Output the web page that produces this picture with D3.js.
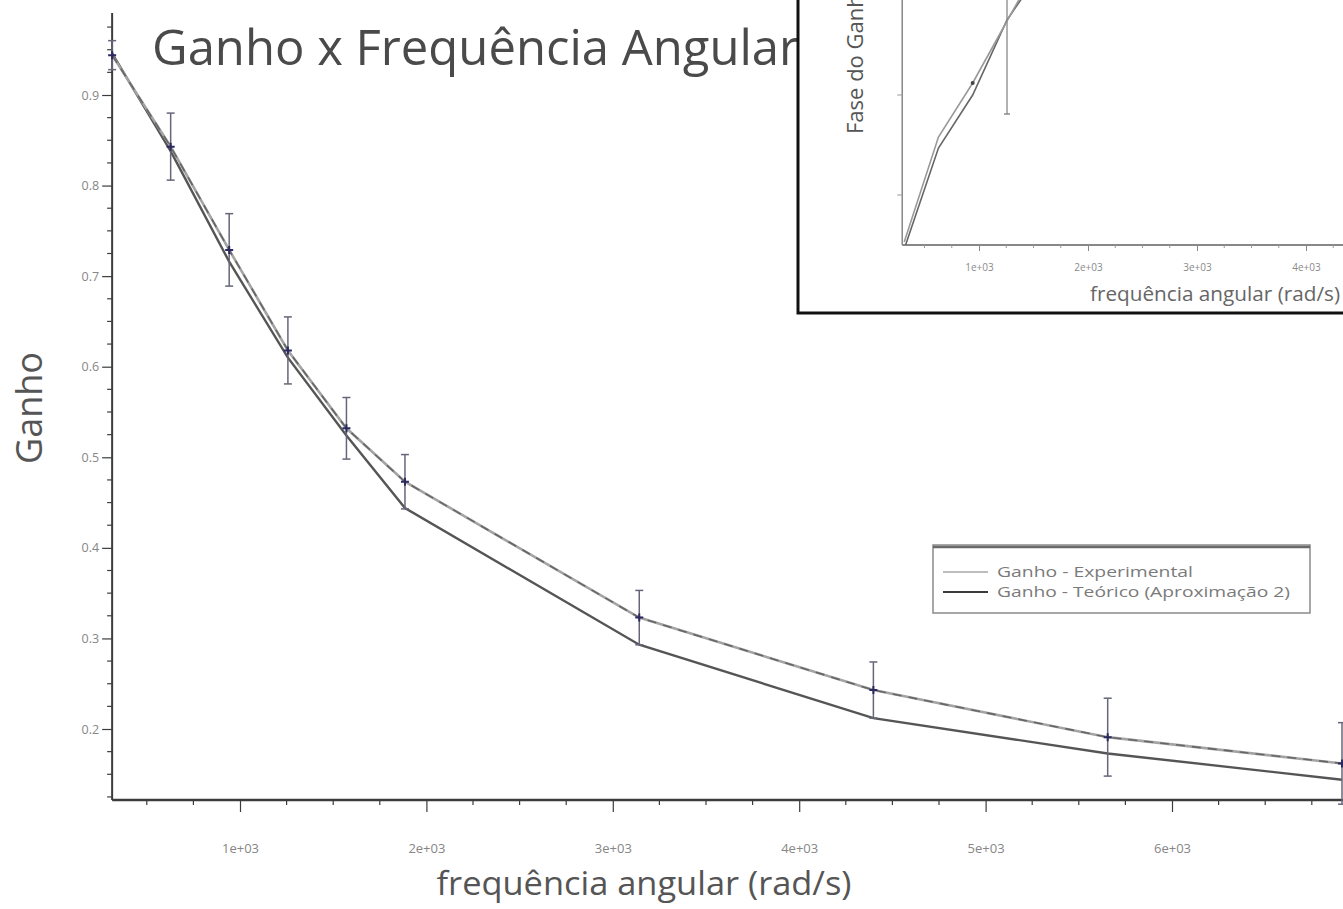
<!DOCTYPE html>
<html>
<head>
<meta charset="utf-8">
<script src="https://cdn.jsdelivr.net/npm/d3@7"></script>
<style>
  html, body { margin: 0; padding: 0; background: #fff; }
  svg { display: block; }
  text { font-family: "Open Sans", "DejaVu Sans", sans-serif; }
</style>
</head>
<body>
<svg id="chart" width="1343" height="909"></svg>
<script>
// Angular frequencies of the measurements (rad/s): 50 … 1100 Hz
const omega = [314, 628, 942, 1257, 1571, 1885, 3142, 4398, 5655, 6912];
// Measured gain and its uncertainty
const gainExp = [0.944, 0.843, 0.729, 0.618, 0.532, 0.473, 0.323, 0.243, 0.191, 0.162];
const gainErr = [0.016, 0.037, 0.040, 0.037, 0.034, 0.030, 0.030, 0.031, 0.043, 0.045];
// Theoretical gain curve
const gainTeo = [0.946, 0.838, 0.716, 0.610, 0.524, 0.444, 0.293, 0.212, 0.173, 0.144];

// Phase panel (first points only are in view)
const omegaFase = [314, 628, 942, 1257, 1571];
const faseExp = [15.3, 25.8, 31.2, 37.4, 43.5];
const faseErr = [0, 0, 0, 9.3, 0];
const faseTeo = [14.6, 24.7, 30.0, 37.5, 42.5];

const gainTicks = [0.2, 0.3, 0.4, 0.5, 0.6, 0.7, 0.8, 0.9];
const freqTicks = [1000, 2000, 3000, 4000, 5000, 6000];
const freqTickLabels = ["1e+03", "2e+03", "3e+03", "4e+03", "5e+03", "6e+03"];
const faseTicks = [20, 30];
const legendLabels = ["Ganho - Experimental", "Ganho - Teórico (Aproximação 2)"];

const svg = d3.select("#chart");

// ---------- main gain plot ----------
const x = d3.scaleLinear().domain([0, 7000]).range([53.6, 1358.4]);
const y = d3.scaleLinear().domain([0.2, 0.9]).range([729, 95]);
const xMin = 314, yMin = y.invert(800), yMax = y.invert(13);

const axisColor = "#3c3c3c";
const tickTextColor = "#868686";

// y axis
const yAxis = d3.axisLeft(y)
  .tickValues(gainTicks)
  .tickFormat(d3.format(".1f"))
  .tickSize(10).tickPadding(3).tickSizeOuter(0);
const gy = svg.append("g").attr("transform", `translate(${x(xMin)},0)`).call(yAxis);
gy.select(".domain").remove();
gy.selectAll("line").attr("stroke", axisColor).attr("stroke-width", 1.2);
gy.selectAll("text").attr("fill", tickTextColor).style("font-size", "12.5px");
svg.append("line")
  .attr("x1", x(xMin)).attr("x2", x(xMin))
  .attr("y1", y(yMax)).attr("y2", y(yMin))
  .attr("stroke", axisColor).attr("stroke-width", 2);
// minor y ticks
const yMinor = d3.range(0.125, 0.99, 0.025).filter(v => Math.abs(Math.round(v * 10) / 10 - v) > 1e-6);
svg.append("g").selectAll("line").data(yMinor).join("line")
  .attr("x1", x(xMin) - 5).attr("x2", x(xMin))
  .attr("y1", d => y(d)).attr("y2", d => y(d))
  .attr("stroke", axisColor).attr("stroke-width", 1.2);

// x axis
const xAxis = d3.axisBottom(x)
  .tickValues(freqTicks)
  .tickFormat((d, i) => freqTickLabels[i])
  .tickSize(12).tickPadding(32).tickSizeOuter(0);
const gx = svg.append("g").attr("transform", `translate(0,${y(yMin)})`).call(xAxis);
gx.select(".domain").remove();
gx.selectAll("line").attr("stroke", axisColor).attr("stroke-width", 1.2);
gx.selectAll("text").attr("fill", tickTextColor).style("font-size", "13px");
svg.append("line")
  .attr("x1", x(xMin)).attr("x2", 1343)
  .attr("y1", y(yMin)).attr("y2", y(yMin))
  .attr("stroke", axisColor).attr("stroke-width", 2.5);
const xMinor = d3.range(500, 7300, 250).filter(v => v % 1000 !== 0);
svg.append("g").selectAll("line").data(xMinor).join("line")
  .attr("x1", d => x(d)).attr("x2", d => x(d))
  .attr("y1", y(yMin)).attr("y2", y(yMin) + 5)
  .attr("stroke", axisColor).attr("stroke-width", 1.2);

// axis titles
svg.append("text")
  .attr("x", 644).attr("y", 895)
  .attr("text-anchor", "middle")
  .attr("fill", "#555").style("font-size", "32px")
  .attr("textLength", 415).attr("lengthAdjust", "spacingAndGlyphs")
  .text("frequência angular (rad/s)");
svg.append("text")
  .attr("transform", "translate(42,408) rotate(-90)")
  .attr("text-anchor", "middle")
  .attr("fill", "#555").style("font-size", "36px")
  .text("Ganho");

// chart title
svg.append("text")
  .attr("x", 152).attr("y", 65)
  .attr("fill", "#4a4a4a").style("font-size", "49px")
  .text("Ganho x Frequência Angular");

// curves
const line = d3.line().x(d => x(d[0])).y(d => y(d[1]));
const expPts = omega.map((w, i) => [w, gainExp[i]]);
const teoPts = omega.map((w, i) => [w, gainTeo[i]]);

svg.append("path").datum(teoPts).attr("d", line)
  .attr("fill", "none").attr("stroke", "#555").attr("stroke-width", 2.4);
svg.append("path").datum(expPts).attr("d", line)
  .attr("fill", "none").attr("stroke", "#a4a4a4").attr("stroke-width", 2.6);
svg.append("path").datum(expPts).attr("d", line)
  .attr("fill", "none").attr("stroke", "#666").attr("stroke-width", 1.6)
  .attr("stroke-dasharray", "9 7");

// error bars
const errColor = "#66667a";
const eb = svg.append("g").selectAll("g").data(expPts).join("g");
eb.append("line")
  .attr("x1", d => x(d[0])).attr("x2", d => x(d[0]))
  .attr("y1", (d, i) => y(d[1] + gainErr[i])).attr("y2", (d, i) => y(d[1] - gainErr[i]))
  .attr("stroke", errColor).attr("stroke-width", 1.5);
eb.append("line")
  .attr("x1", d => x(d[0]) - 4).attr("x2", d => x(d[0]) + 4)
  .attr("y1", (d, i) => y(d[1] + gainErr[i])).attr("y2", (d, i) => y(d[1] + gainErr[i]))
  .attr("stroke", errColor).attr("stroke-width", 1.5);
eb.append("line")
  .attr("x1", d => x(d[0]) - 4).attr("x2", d => x(d[0]) + 4)
  .attr("y1", (d, i) => y(d[1] - gainErr[i])).attr("y2", (d, i) => y(d[1] - gainErr[i]))
  .attr("stroke", errColor).attr("stroke-width", 1.5);
eb.append("path")
  .attr("d", d => `M${x(d[0]) - 4},${y(d[1])}h8M${x(d[0])},${y(d[1]) - 4}v8`)
  .attr("stroke", "#2a2a60").attr("stroke-width", 2);

// legend
const lg = svg.append("g").attr("transform", "translate(933,545)");
lg.append("rect").attr("width", 377).attr("height", 68)
  .attr("fill", "#fff").attr("stroke", "#8a8a8a").attr("stroke-width", 1.5);
lg.append("line").attr("x1", 0).attr("x2", 377).attr("y1", 2).attr("y2", 2)
  .attr("stroke", "#6a6a6a").attr("stroke-width", 2.5);
const legendColors = ["#bdbdbd", "#3a3a3a"];
const legendWidths = [196, 293];
legendLabels.forEach((lab, i) => {
  const ly = 27 + i * 20;
  lg.append("line").attr("x1", 10).attr("x2", 55).attr("y1", ly).attr("y2", ly)
    .attr("stroke", legendColors[i]).attr("stroke-width", 2.2);
  lg.append("text").attr("x", 64).attr("y", ly + 5)
    .attr("fill", "#7a7a7a").style("font-size", "14px")
    .attr("textLength", legendWidths[i]).attr("lengthAdjust", "spacingAndGlyphs")
    .text(lab);
});

// ---------- inset: phase plot ----------
const inset = svg.append("g");
inset.append("rect")
  .attr("x", 798).attr("y", -10).attr("width", 560).attr("height", 323)
  .attr("fill", "#fff").attr("stroke", "#111").attr("stroke-width", 3);

const xi = d3.scaleLinear().domain([1000, 2000]).range([979, 1088]);
const yi = d3.scaleLinear().domain([20, 30]).range([195, 95]);
const x0i = xi(omegaFase[0]) - 2, y0i = 245;

inset.append("line").attr("x1", x0i).attr("x2", x0i).attr("y1", 0).attr("y2", y0i)
  .attr("stroke", "#888").attr("stroke-width", 1.5);
inset.append("line").attr("x1", x0i).attr("x2", 1343).attr("y1", y0i).attr("y2", y0i)
  .attr("stroke", "#888").attr("stroke-width", 2);

const xiAxis = d3.axisBottom(xi).tickValues([1000, 2000, 3000, 4000])
  .tickFormat((d, i) => freqTickLabels[i]).tickSize(6).tickPadding(13).tickSizeOuter(0);
const gxi = inset.append("g").attr("transform", `translate(0,${y0i})`).call(xiAxis);
gxi.select(".domain").remove();
gxi.selectAll("line").attr("stroke", "#888");
gxi.selectAll("text").attr("fill", "#8a8a8a").style("font-size", "10px");
inset.append("g").selectAll("line")
  .data(d3.range(500, 4500, 250).filter(v => v % 1000 !== 0)).join("line")
  .attr("x1", d => xi(d)).attr("x2", d => xi(d)).attr("y1", y0i).attr("y2", y0i + 3)
  .attr("stroke", "#999");
inset.append("g").selectAll("line").data(faseTicks).join("line")
  .attr("x1", x0i - 5).attr("x2", x0i).attr("y1", d => yi(d)).attr("y2", d => yi(d))
  .attr("stroke", "#999");

inset.append("text")
  .attr("x", 1340).attr("y", 301).attr("text-anchor", "end")
  .attr("fill", "#666").style("font-size", "20px")
  .attr("textLength", 250).attr("lengthAdjust", "spacingAndGlyphs")
  .text("frequência angular (rad/s)");
inset.append("text")
  .attr("transform", `translate(863,134) rotate(-90)`)
  .attr("fill", "#555").style("font-size", "22px")
  .text("Fase do Ganho");

svg.append("clipPath").attr("id", "insetClip")
  .append("rect").attr("x", x0i).attr("y", 0).attr("width", 1343 - x0i).attr("height", y0i);
const lineF = d3.line().x(d => xi(d[0])).y(d => yi(d[1]));
const fExp = omegaFase.map((w, i) => [w, faseExp[i]]);
const fTeo = omegaFase.map((w, i) => [w, faseTeo[i]]);
const gCurves = inset.append("g").attr("clip-path", "url(#insetClip)");
gCurves.append("path").datum(fTeo).attr("d", lineF)
  .attr("fill", "none").attr("stroke", "#666").attr("stroke-width", 1.6);
gCurves.append("path").datum(fExp).attr("d", lineF)
  .attr("fill", "none").attr("stroke", "#999").attr("stroke-width", 1.6);
fExp.forEach((d, i) => {
  if (faseErr[i] > 0) {
    gCurves.append("line")
      .attr("x1", xi(d[0])).attr("x2", xi(d[0]))
      .attr("y1", yi(d[1] + faseErr[i])).attr("y2", yi(d[1] - faseErr[i]))
      .attr("stroke", "#888").attr("stroke-width", 1.3);
    gCurves.append("line")
      .attr("x1", xi(d[0]) - 3).attr("x2", xi(d[0]) + 3)
      .attr("y1", yi(d[1] - faseErr[i])).attr("y2", yi(d[1] - faseErr[i]))
      .attr("stroke", "#888").attr("stroke-width", 1.3);
  }
});
gCurves.append("circle").attr("cx", xi(fExp[2][0])).attr("cy", yi(fExp[2][1])).attr("r", 2)
  .attr("fill", "#444");
</script>
</body>
</html>
